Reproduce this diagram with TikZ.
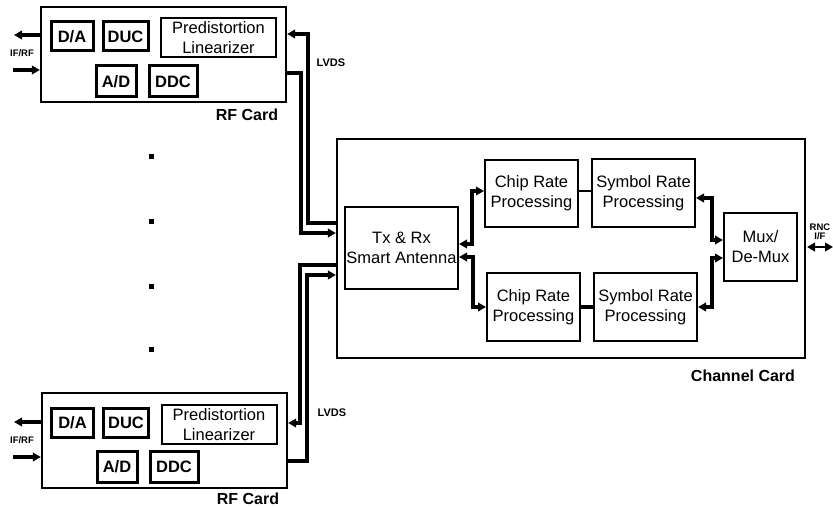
\documentclass[tikz,border=0pt]{standalone}
\usepackage{fontspec}
\setmainfont{Liberation Sans}
\usetikzlibrary{arrows.meta}
\begin{document}
\begin{tikzpicture}[x=1pt,y=-1pt,
  box/.style={draw,line width=2pt,inner sep=0pt,align=center,font=\fontsize{16.5}{20}\selectfont},
  sbox/.style={draw,line width=3pt,inner sep=0pt,align=center,font=\fontsize{16.5}{20}\selectfont\bfseries},
  card/.style={draw,line width=2.2pt,inner sep=0pt},
  lbl/.style={font=\fontsize{16}{19}\selectfont\bfseries,inner sep=0pt},
  small/.style={font=\fontsize{10}{11}\selectfont\bfseries,inner sep=0pt,align=center},
  conn/.style={line width=3.2pt},
  tip/.style={-{Triangle[length=8pt,width=8.5pt]}},
  tips/.style={{Triangle[length=8pt,width=8.5pt]}-{Triangle[length=8pt,width=8.5pt]}},
  dot/.style={fill=black,inner sep=0pt,minimum size=5pt}]
\useasboundingbox (0,0) rectangle (833,508);

% ---- top RF card
\node[card,minimum width=245pt,minimum height=95pt] (rfA) at (163.5,54.5) {};
\node[sbox,minimum width=42pt,minimum height=29pt] (daA) at (72,36.5) {D/A};
\node[sbox,minimum width=45pt,minimum height=29pt] (ducA) at (125.5,36.5) {DUC};
\node[box,minimum width=115pt,minimum height=39pt] (preA) at (218.5,37.5) {Predistortion\\Linearizer};
\node[sbox,minimum width=40pt,minimum height=31pt] (adA) at (116,81.5) {A/D};
\node[sbox,minimum width=48pt,minimum height=31pt] (ddcA) at (173,81.5) {DDC};
\node[lbl] (rfAl) at (247,115) {RF Card};
\node[small,font=\fontsize{9.5}{10}\selectfont\bfseries] (ifA) at (22,53) {IF/RF};
\coordinate (ifAo) at (14,35);
\coordinate (ifAi) at (13,70);
\draw[conn,tip] (rfA.west |- ifAo) -- (ifAo);
\draw[conn,tip] (ifAi) -- (rfA.west |- ifAi);
\node[small,font=\fontsize{11}{12}\selectfont\bfseries] (lvA) at (331,63) {LVDS};

% ---- bottom RF card
\node[card,minimum width=245pt,minimum height=95pt] (rfB) at (164.5,440.5) {};
\node[sbox,minimum width=42pt,minimum height=29pt] (daB) at (72.5,422.5) {D/A};
\node[sbox,minimum width=45pt,minimum height=29pt] (ducB) at (126,422.5) {DUC};
\node[box,minimum width=115pt,minimum height=39pt] (preB) at (219,424.5) {Predistortion\\Linearizer};
\node[sbox,minimum width=40pt,minimum height=31pt] (adB) at (117,466.5) {A/D};
\node[sbox,minimum width=48pt,minimum height=31pt] (ddcB) at (174,466.5) {DDC};
\node[lbl] (rfBl) at (248,499) {RF Card};
\node[small,font=\fontsize{9.5}{10}\selectfont\bfseries] (ifB) at (22,440) {IF/RF};
\coordinate (ifBo) at (14,422);
\coordinate (ifBi) at (13,457);
\draw[conn,tip] (rfB.west |- ifBo) -- (ifBo);
\draw[conn,tip] (ifBi) -- (rfB.west |- ifBi);
\node[small,font=\fontsize{11}{12}\selectfont\bfseries] (lvB) at (332,413) {LVDS};

% ---- dots
\node[dot] (d1) at (151,157) {};
\node[dot] (d2) at (151,221) {};
\node[dot] (d3) at (151,286) {};
\node[dot] (d4) at (151,349) {};

% ---- channel card
\node[card,minimum width=468pt,minimum height=219pt] (chan) at (571,248.5) {};
\node[lbl] (chanl) at (743,376) {Channel Card};
\node[box,minimum width=113pt,minimum height=82pt] (tx) at (401.5,248) {Tx \& Rx\\Smart Antenna};
\node[box,minimum width=93pt,minimum height=67pt] (chipT) at (531.5,193.5) {Chip Rate\\Processing};
\node[box,minimum width=103pt,minimum height=68pt] (symT) at (643.5,193) {Symbol Rate\\Processing};
\node[box,minimum width=93pt,minimum height=68pt] (chipB) at (533.5,307) {Chip Rate\\Processing};
\node[box,minimum width=103pt,minimum height=68pt] (symB) at (645.5,307) {Symbol Rate\\Processing};
\node[box,minimum width=73pt,minimum height=68pt] (mux) at (760.5,247) {Mux/\\De-Mux};
\node[small,font=\fontsize{9.5}{10}\selectfont\bfseries] (rnc) at (820,232) {RNC\\[-1pt]I/F};
\coordinate (rncA) at (807,247);
\coordinate (rncB) at (833,247);

% ---- connectors inside channel card
\draw[conn,line width=2.2pt] ([yshift=2.5pt]chipT.east) -- ([yshift=2pt]symT.west);
\draw[conn] (chipB.east) -- (symB.west);
\draw[conn,tips] ([yshift=4pt]tx.east) -- ++(13,0) |- ([yshift=2.5pt]chipT.west);
\draw[conn,tips] ([yshift=-9pt]tx.east) -- ++(14,0) |- (chipB.west);
\draw[conn,tips] ([yshift=-5pt]symT.east) -- ++(16,0) |- ([yshift=7pt]mux.west);
\draw[conn,tips] (symB.east) -- ++(14,0) |- ([yshift=-11pt]mux.west);
\draw[conn,line width=2.2pt,tips] (rncA) -- (rncB);

% ---- LVDS links
\draw[conn,tip] (chan.west |- 0,223) -- (308,223) -- (308,34) -- (rfA.east |- 0,34);
\draw[conn,tip] (rfA.east |- 0,73) -- (301,73) -- (301,233) -- (chan.west |- 0,233);
\draw[conn,tip] (chan.west |- 0,265) -- (300,265) -- (300,423) -- (rfB.east |- 0,423);
\draw[conn,tip] (rfB.east |- 0,461) -- (307,461) -- (307,275) -- (chan.west |- 0,275);
\end{tikzpicture}
\end{document}
